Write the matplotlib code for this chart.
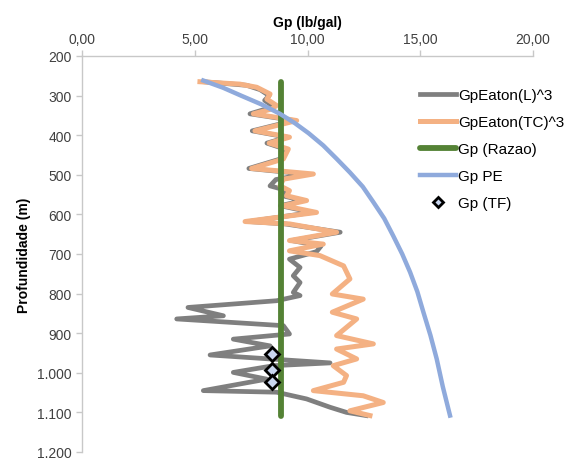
import numpy as np
import matplotlib
matplotlib.use("Agg")
import matplotlib.pyplot as plt
from matplotlib.ticker import FuncFormatter, MultipleLocator

plt.rcParams['font.family'] = ['Liberation Sans', 'DejaVu Sans']

# ---- dados (profundidade em m, Gp em lb/gal) ----
eaton_tc_prof = [265, 271, 279, 296, 309, 325, 334, 346, 363, 389, 405, 420, 435, 460,
                 484, 498, 511, 528, 540, 553, 565, 578, 595, 618, 624, 645, 666, 675,
                 692, 704, 730, 763, 801, 814, 847, 864, 906, 927, 940, 965, 982, 1007,
                 1024, 1045, 1058, 1075, 1096, 1108]
eaton_tc_gp = [5.23, 7.0, 7.75, 8.34, 8.2, 8.63, 8.4, 7.6, 9.52, 7.67, 9.2, 8.3, 9.15, 8.93,
               7.52, 10.26, 8.93, 8.78, 9.2, 9.07, 9.96, 8.93, 10.4, 7.23, 9.2, 11.29, 9.2, 10.7,
               9.2, 10.55, 11.6, 11.88, 11.1, 12.47, 11.1, 12.18, 11.29, 12.92, 11.29, 12.18, 11.14, 11.73,
               11.6, 10.26, 12.47, 13.36, 11.88, 12.77]

eaton_l_prof = [265, 274, 285, 300, 312, 328, 346, 363, 389, 405, 420, 435, 460, 484,
                498, 512, 528, 540, 553, 565, 578, 595, 618, 624, 645, 666, 680, 694,
                713, 734, 755, 772, 797, 805, 818, 835, 856, 864, 881, 902, 915, 932,
                955, 975, 982, 999, 1016, 1045, 1049, 1066, 1087, 1100, 1108]
eaton_l_gp = [5.4, 7.3, 7.9, 8.3, 8.1, 8.5, 7.45, 9.4, 7.55, 9.1, 8.2, 9.0, 8.8, 7.4,
              9.9, 8.6, 8.34, 9.1, 8.9, 9.8, 8.8, 10.2, 7.4, 9.0, 11.45, 9.3, 10.6, 10.4,
              9.2, 9.67, 9.37, 9.67, 9.37, 9.67, 8.63, 4.7, 6.27, 4.2, 8.93, 9.2, 6.71, 8.34,
              5.68, 11.0, 8.5, 6.71, 8.19, 5.38, 8.63, 9.96, 11.0, 11.73, 12.6]

razao_prof = [265, 1108]
razao_gp = [8.81, 8.81]

pe_prof = [262, 280, 300, 322, 346, 370, 395, 426, 460, 494, 530, 569, 610, 654,
           700, 746, 795, 847, 905, 965, 1035, 1108]
pe_gp = [5.38, 6.25, 7.05, 7.95, 8.78, 9.45, 10.05, 10.7, 11.3, 11.88, 12.45, 12.92, 13.4, 13.8,
         14.2, 14.55, 14.87, 15.14, 15.45, 15.73, 16.0, 16.32]

tf_prof = [952, 993, 1022]
tf_gp = [8.41, 8.41, 8.41]

fig = plt.figure(figsize=(5.68, 4.6), dpi=100)
ax = fig.add_axes([82/568, 7/460, 451/568, 396/460])

ax.plot(eaton_l_gp, eaton_l_prof, color='#7f7f7f', lw=3.4, label='GpEaton(L)^3',
        solid_joinstyle='round', zorder=2)
ax.plot(eaton_tc_gp, eaton_tc_prof, color='#f4b183', lw=3.6, label='GpEaton(TC)^3',
        solid_joinstyle='round', zorder=3)
ax.plot(razao_gp, razao_prof, color='#548235', lw=4.2, label='Gp (Razao)',
        solid_capstyle='round', zorder=4)
ax.plot(pe_gp, pe_prof, color='#8faadc', lw=3.2, label='Gp PE',
        solid_joinstyle='round', zorder=5)
ax.plot(tf_gp, tf_prof, ls='none', marker='D', ms=7, mfc='#c9d6ef', mec='black',
        mew=2, label='Gp (TF)', zorder=6)

ax.set_xlim(0, 20)
ax.set_ylim(1200, 200)
ax.xaxis.set_major_locator(MultipleLocator(5))
ax.yaxis.set_major_locator(MultipleLocator(100))
ax.xaxis.set_major_formatter(FuncFormatter(lambda v, p: f"{v:.2f}".replace('.', ',')))
ax.yaxis.set_major_formatter(FuncFormatter(lambda v, p: f"{int(v):,}".replace(',', '.')))
ax.xaxis.tick_top()
ax.xaxis.set_label_position('top')

for s in ['right', 'bottom']:
    ax.spines[s].set_visible(False)
for s in ['left', 'top']:
    ax.spines[s].set_color('#c8c8c8')
    ax.spines[s].set_linewidth(1.0)
ax.tick_params(colors='#c8c8c8', labelcolor='#404040', labelsize=10, length=4, width=1)

ax.set_xlabel('Gp (lb/gal)', fontsize=10, fontweight='bold', labelpad=4)
ax.set_ylabel('Profundidade (m)', fontsize=10, fontweight='bold', labelpad=4)

leg = ax.legend(loc='upper left', bbox_to_anchor=(0.725, 0.945), frameon=False, fontsize=11,
                handlelength=2.4, handletextpad=0.1, labelspacing=0.85, borderpad=0.2)
leg.legend_handles[4].set_markersize(5)

fig.savefig('out.png', dpi=100)
